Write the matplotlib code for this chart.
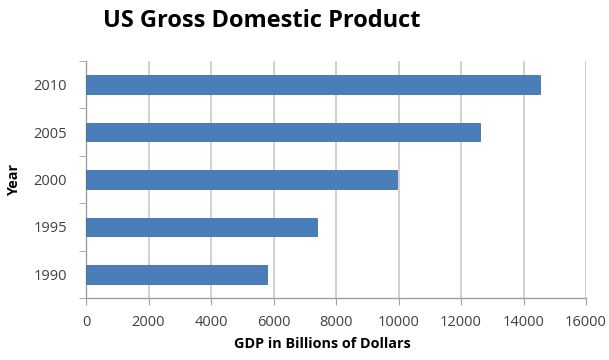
import matplotlib.pyplot as plt

years = ['1990', '1995', '2000', '2005', '2010']
gdp = [5800, 7400, 9950, 12600, 14530]
xticks = [0, 2000, 4000, 6000, 8000, 10000, 12000, 14000, 16000]

plt.rcParams['font.family'] = ['Open Sans', 'DejaVu Sans']

fig = plt.figure(figsize=(6.09, 3.6), dpi=100)
ax = fig.add_axes([86 / 609, 1 - 298 / 360, 500 / 609, 237 / 360])

ax.barh(range(len(years)), gdp, height=0.39, color='#4a7ebb', edgecolor='#41719f', linewidth=0.6, zorder=3)

ax.set_xlim(0, 16000)
ax.set_ylim(-0.5, len(years) - 0.5)
ax.set_xticks(xticks)
ax.set_xticklabels([str(t) for t in xticks])
ax.set_yticks(range(len(years)))
ax.set_yticklabels(years)
# category boundary ticks on the y axis like excel
ax.set_yticks([i - 0.5 for i in range(len(years) + 1)], minor=True)
ax.tick_params(axis='y', which='major', length=0, pad=13.5)
ax.tick_params(axis='y', which='minor', length=5, color='#a0a0a0')
ax.tick_params(axis='x', length=5, color='#a0a0a0', pad=7)
ax.tick_params(labelsize=10.5, labelcolor='#404040')

ax.grid(axis='x', color='#c8c8c8', linewidth=1.2, zorder=0)
for s in ['top', 'right']:
    ax.spines[s].set_visible(False)
for s in ['left', 'bottom']:
    ax.spines[s].set_color('#a0a0a0')
    ax.spines[s].set_linewidth(1.0)

ax.set_xlabel('GDP in Billions of Dollars', fontsize=10.4, fontweight='bold')
ax.xaxis.set_label_coords(0.472, -0.165)
ax.set_ylabel('Year', fontsize=10.4, fontweight='bold')
ax.yaxis.set_label_coords(-0.13, 0.5)
fig.suptitle('US Gross Domestic Product', fontsize=17, fontweight='bold', x=0.43, y=0.975)

fig.savefig('out.png', dpi=100)
